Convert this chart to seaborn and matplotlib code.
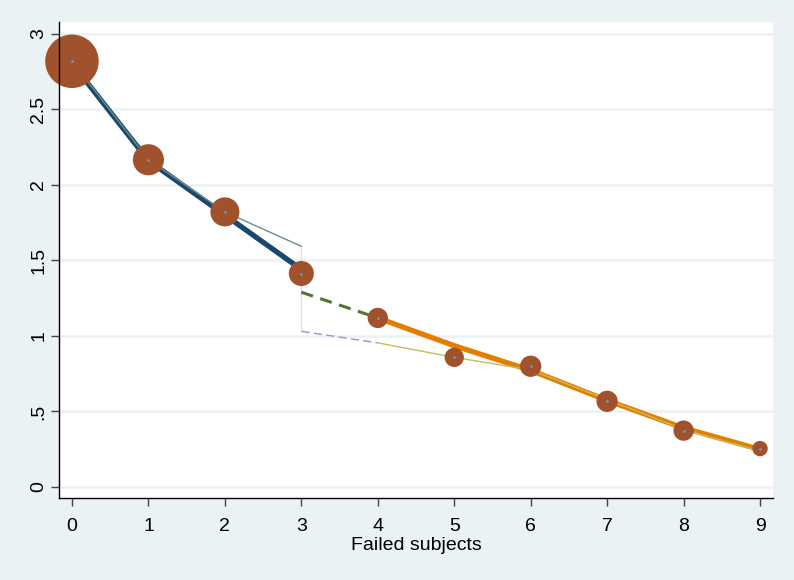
import numpy as np
import pandas as pd
import matplotlib
matplotlib.use("Agg")
import matplotlib.pyplot as plt
import seaborn as sns

# ---- data ----
x_pts = [0, 1, 2, 3, 4, 5, 6, 7, 8, 9]
y_pts = [2.818, 2.166, 1.821, 1.413, 1.119, 0.858, 0.799, 0.567, 0.373, 0.254]
weights = [27.8, 9.4, 8.2, 6.1, 4.0, 3.6, 4.4, 4.4, 4.0, 2.3]

x_seg1 = [0, 1, 2, 3]
y_fit1 = [2.805, 2.160, 1.800, 1.440]          # thick navy
y_fit1b = [2.818, 2.166, 1.821, 1.593]         # thin teal

x_vert = [3, 3]
y_vert = [1.600, 1.030]                         # dotted cranberry

x_gap = [3, 4]
y_gap_hi = [1.289, 1.119]                       # dashed green
y_gap_lo = [1.030, 0.954]                       # dashed lavender

x_seg2 = [4, 5, 6, 7, 8, 9]
y_fit2 = [1.119, 0.935, 0.772, 0.573, 0.390, 0.248]   # thick orange
y_fit2b = [0.954, 0.858, 0.775, 0.580, 0.380, 0.236]  # thin khaki

yticks = [0, 0.5, 1, 1.5, 2, 2.5, 3]
ytick_labels = ["0", ".5", "1", "1.5", "2", "2.5", "3"]
xticks = [0, 1, 2, 3, 4, 5, 6, 7, 8, 9]
xlabel = "Failed subjects"

# ---- style ----
sns.set_theme(style="white")
plt.rcParams["font.family"] = ["Liberation Sans", "DejaVu Sans"]
plt.rcParams["ytick.left"] = True
plt.rcParams["xtick.bottom"] = True
plt.rcParams["ytick.major.size"] = 5.5
plt.rcParams["xtick.major.size"] = 5.5
plt.rcParams["ytick.major.width"] = 1.0
plt.rcParams["xtick.major.width"] = 1.0

BG = "#eaf2f3"
fig = plt.figure(figsize=(7.94, 5.80), dpi=100, facecolor=BG)
ax = fig.add_axes([0.0743, 0.1414, 0.9736 - 0.0743, 0.9626 - 0.1414])
ax.set_facecolor("white")

pts = pd.DataFrame({"x": x_pts, "y": y_pts, "w": weights})

sns.lineplot(x=x_seg1, y=y_fit1b, ax=ax, color="#6e8e84", lw=1.0, zorder=3)
sns.lineplot(x=x_seg1, y=y_fit1, ax=ax, color="#1a476f", lw=3.8, zorder=2)
sns.lineplot(x=x_vert, y=y_vert, ax=ax, color="#c8285a", lw=1.5,
             linestyle=(0, (0.9, 1.9)), zorder=3)
sns.lineplot(x=x_gap, y=y_gap_hi, ax=ax, color="#55752f", lw=2.2, linestyle=(0, (4, 2.5)), zorder=3)
sns.lineplot(x=x_gap, y=y_gap_lo, ax=ax, color="#9a90d8", lw=1.0, linestyle=(0, (6, 3)), zorder=3)
sns.lineplot(x=x_seg2, y=y_fit2, ax=ax, color="#e37e00", lw=3.8, zorder=2)
sns.lineplot(x=x_seg2, y=y_fit2b, ax=ax, color="#c8bc5a", lw=1.0, zorder=3)

max_area = (53.5 * 0.72) ** 2
sns.scatterplot(data=pts, x="x", y="y", size="w", sizes=(0, max_area),
                size_norm=(0, max(weights)), color="#a0522d", linewidth=0,
                legend=False, ax=ax, zorder=4, clip_on=False)
sns.scatterplot(data=pts, x="x", y="y", s=4, color="#7b92a8", linewidth=0,
                legend=False, ax=ax, zorder=5, clip_on=False)

ax.set_xlim(-0.17, 9.17)
ax.set_ylim(-0.073, 3.08)
ax.set_xticks(xticks)
ax.set_xticklabels([str(v) for v in xticks])
ax.set_yticks(yticks)
ax.set_yticklabels(ytick_labels)

ax.yaxis.grid(True, color=BG, lw=1.8)
ax.xaxis.grid(False)
ax.set_axisbelow(True)

for s in ["top", "right"]:
    ax.spines[s].set_visible(False)
for s in ["left", "bottom"]:
    ax.spines[s].set_visible(True)
    ax.spines[s].set_color("black")
    ax.spines[s].set_linewidth(1.0)
    ax.spines[s].set_zorder(6)

ax.tick_params(axis="both", which="major", left=True, bottom=True,
               length=5.5, width=1.0, color="#444444",
               labelsize=14, labelcolor="black", direction="out")
ax.tick_params(axis="x", pad=9)
ax.tick_params(axis="y", pad=2.8)
for lab in ax.get_yticklabels():
    lab.set_rotation(90)
    lab.set_va("center")

ax.set_xlabel(xlabel, fontsize=14, labelpad=1.5, color="black")
ax.set_ylabel("")

fig.savefig("out.png", dpi=100, facecolor=BG)
